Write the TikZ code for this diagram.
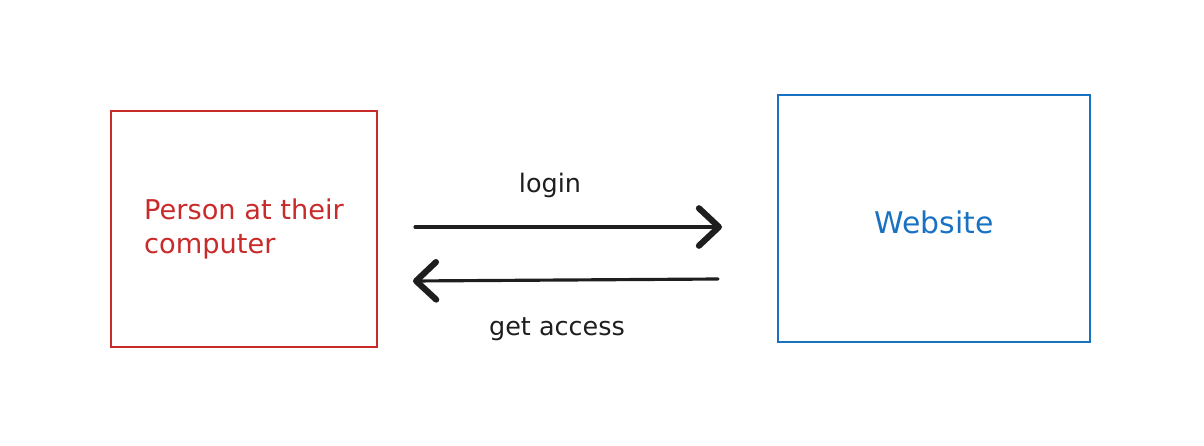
\documentclass[tikz,border=0pt]{standalone}
\usepackage{fontspec}
\setmainfont{DejaVu Sans}
\usetikzlibrary{arrows.meta,positioning}
\definecolor{sketchred}{HTML}{C92A2A}
\definecolor{sketchblue}{HTML}{1971C2}
\definecolor{ink}{HTML}{1E1E1E}
\tikzset{>={Straight Barb[length=4mm,width=7.5mm,line width=3.5pt,round]}}
\tikzstyle{box}=[rectangle,draw,line width=1.3pt,inner sep=0pt]
\tikzstyle{msg}=[text=ink,font=\fontsize{14.5}{17}\selectfont]
\tikzstyle{flow}=[draw=ink,line width=1.8pt,line cap=round,->]

\begin{document}
\begin{tikzpicture}[x=0.02cm,y=-0.02cm]
	\useasboundingbox (0,0) rectangle (1204,446);

	% the two parties
	\node[box,draw=sketchred,text=sketchred,align=left,font=\fontsize{15.5}{19.5}\selectfont,minimum width=5.32cm,minimum height=4.72cm] (person) at (244,229) {Person at their\\computer};
	\node[box,draw=sketchblue,text=sketchblue,font=\fontsize{17}{20}\selectfont,text height=0.62cm,text depth=0pt,minimum width=6.24cm,minimum height=4.94cm] (site) at (934,218.5) {Website};

	% arrow ends between the boxes
	\coordinate (login a) at (415,227);
	\coordinate (login b) at (722,227);
	\coordinate (access a) at (718,279);
	\coordinate (access b) at (413,281);

	\draw[flow] (login a) -- (login b);
	\draw[flow] (access a) -- (access b);

	\node[msg] (login) at (550,185) {login};
	\node[msg] (access) at (557,329) {get access};
\end{tikzpicture}
\end{document}
